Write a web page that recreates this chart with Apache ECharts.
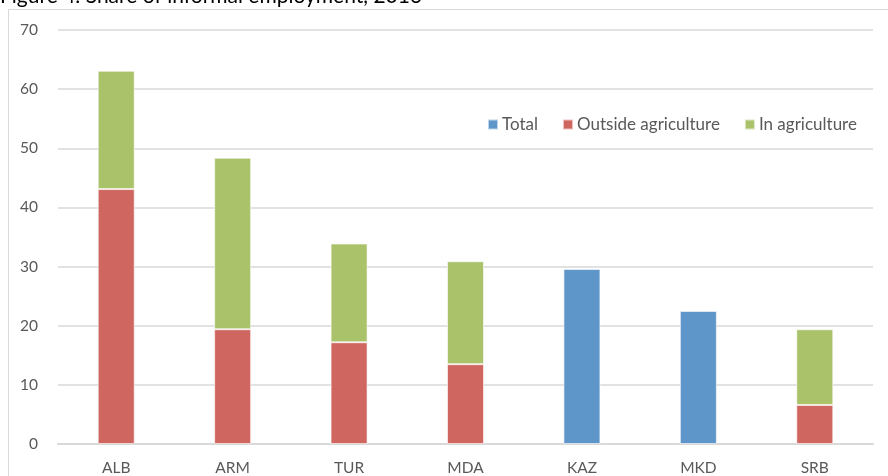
<!DOCTYPE html>
<html>
<head>
<meta charset="utf-8">
<script src="https://cdn.jsdelivr.net/npm/echarts@6/dist/echarts.min.js"></script>
<style>html,body{margin:0;padding:0;background:#fff;}#c{width:888px;height:476px;}</style>
</head>
<body>
<div id="c"></div>
<script>
var categories = ['ALB', 'ARM', 'TUR', 'MDA', 'KAZ', 'MKD', 'SRB'];
var totalValues = [null, null, null, null, 29.6, 22.5, null];
var outsideAgri = [43.1, 19.4, 17.2, 13.5, null, null, 6.6];
var inAgri = [20.0, 29.0, 16.7, 17.4, null, null, 12.8];
var yTicks = [0, 10, 20, 30, 40, 50, 60, 70];

var FONT = 'Lato';
var chart = echarts.init(document.getElementById('c'), null, {renderer: 'canvas'});
var barStyle = function (c) { return {color: c, borderColor: 'rgba(255,255,255,0.6)', borderWidth: 1}; };
chart.setOption({
  animation: false,
  backgroundColor: '#fff',
  textStyle: {fontFamily: FONT},
  graphic: [
    {type: 'rect', z: -10, shape: {x: 8.5, y: 9.5, width: 900, height: 500},
     style: {fill: 'none', stroke: '#D9D9D9', lineWidth: 1}},
    {type: 'text', x: 0, y: 7, style: {text: 'Figure 4. Share of informal employment, 2013',
     font: '21px ' + FONT, fill: '#000', verticalAlign: 'bottom'}}
  ],
  legend: {
    left: 482, top: 111,
    itemWidth: 10, itemHeight: 10, itemGap: 24,
    icon: 'rect',
    textStyle: {fontSize: 17, color: '#595959', fontFamily: FONT, padding: [0, 0, 0, -1]},
    data: ['Total', 'Outside agriculture', 'In agriculture']
  },
  grid: {left: 58, right: 15, top: 30, bottom: 31, containLabel: false},
  xAxis: {
    type: 'category', data: categories,
    axisLine: {show: true, lineStyle: {color: '#D9D9D9', width: 2}},
    axisTick: {show: false},
    axisLabel: {fontSize: 15.5, color: '#595959', margin: 16, fontFamily: FONT}
  },
  yAxis: {
    type: 'value', min: yTicks[0], max: yTicks[yTicks.length - 1], interval: 10,
    axisLine: {show: false}, axisTick: {show: false},
    axisLabel: {fontSize: 15.5, color: '#595959', margin: 20, fontFamily: FONT},
    splitLine: {lineStyle: {color: '#D9D9D9', width: 1.5}}
  },
  series: [
    {name: 'Total', type: 'bar', stack: 's', data: totalValues, barWidth: 37, itemStyle: barStyle('#5F96C9')},
    {name: 'Outside agriculture', type: 'bar', stack: 's', data: outsideAgri, barWidth: 37, itemStyle: barStyle('#CF665F')},
    {name: 'In agriculture', type: 'bar', stack: 's', data: inAgri, barWidth: 37, itemStyle: barStyle('#AAC36B')}
  ]
});
</script>
</body>
</html>
